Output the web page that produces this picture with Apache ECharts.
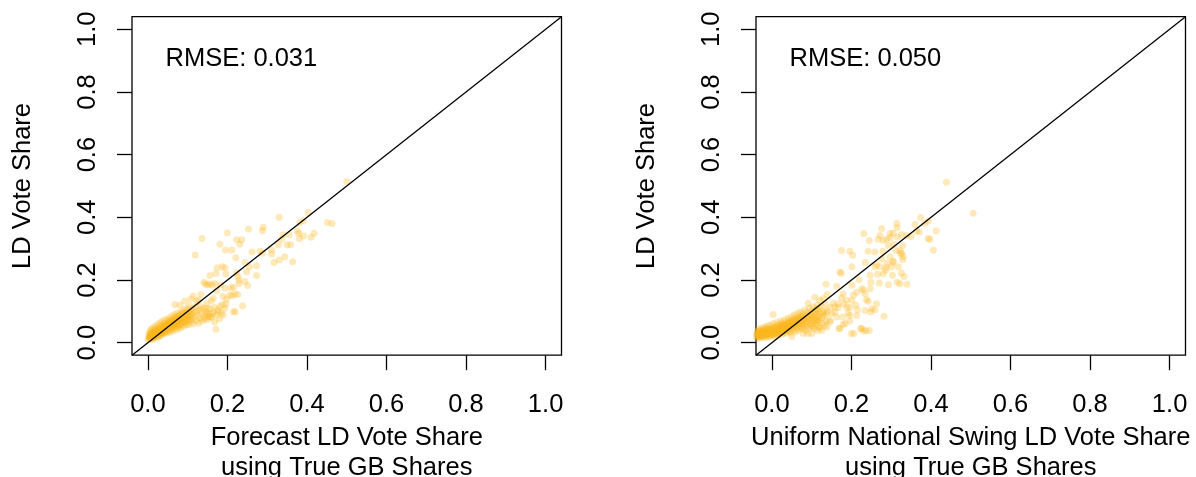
<!DOCTYPE html>
<html>
<head>
<meta charset="utf-8">
<script src="https://cdn.jsdelivr.net/npm/echarts@6/dist/echarts.min.js"></script>
<style>
  html, body { margin: 0; padding: 0; background: #fff; }
  #chart { width: 1196px; height: 477px; }
</style>
</head>
<body>
<div id="chart"></div>
<script>
// Axis limits (R-style 4% padding around [0, 1]) and tick values
const AXIS_MIN = -0.04;
const AXIS_MAX = 1.04;
const tickValues = [0, 0.2, 0.4, 0.6, 0.8, 1.0];

// Panel titles and fit statistics
const xTitles = [
  'Forecast LD Vote Share\nusing True GB Shares',
  'Uniform National Swing LD Vote Share\nusing True GB Shares'
];
const yTitle = 'LD Vote Share';
const rmseValues = ['0.031', '0.050'];
const rmsePosition = [0.235, 0.905];

// Left panel: [forecast share, actual share] per constituency
const forecastShares = [
  [.500,.514],[.330,.400],[.403,.415],[.451,.383],[.463,.380],[.382,.383],[.391,.389],[.376,.357],
  [.379,.349],[.418,.349],[.410,.336],[.391,.340],[.381,.332],[.290,.368],[.288,.357],[.253,.363],
  [.200,.351],[.136,.332],[.223,.328],[.236,.328],[.231,.314],[.181,.314],[.195,.296],[.211,.296],
  [.262,.289],[.282,.292],[.288,.285],[.311,.296],[.311,.283],[.340,.344],[.336,.330],[.355,.344],
  [.328,.312],[.350,.312],[.359,.312],[.221,.271],[.244,.256],[.317,.256],[.330,.264],[.344,.274],
  [.364,.258],[.273,.245],[.174,.239],[.187,.242],[.194,.239],[.255,.242],[.248,.226],[.171,.221],
  [.196,.219],[.223,.223],[.226,.211],[.156,.214],[.273,.214],[.229,.200],[.229,.189],[.244,.195],
  [.251,.182],[.145,.187],[.156,.187],[.169,.189],[.173,.166],[.194,.174],[.215,.177],[.226,.154],
  [.206,.152],[.189,.147],[.133,.154],[.164,.142],[.119,.280],[.238,.117],[.220,.099],[.171,.043],
  [.114,.149],[.127,.136],[.148,.126],[.160,.134],[.181,.115],[.177,.099],[.156,.083],[.146,.094],
  [.196,.123],[.189,.088],[.141,.193],[.150,.184],[.162,.184],[.183,.184],[.209,.175],[.212,.150],
  [.198,.139],[.187,.122],[.194,.110],[.167,.112],[.162,.091],[.152,.083],[.142,.076],[.148,.110],
  [.133,.115],[.123,.131],[.108,.139],[.093,.133],[.081,.120],[.068,.122],[.215,.099],[.219,.155],
  // dense cluster of low-share seats
  [.000,.010],[.002,.018],[.004,.025],[.003,.032],[.005,.012],[.006,.040],[.007,.021],[.008,.029],
  [.009,.015],[.010,.036],[.010,.046],[.011,.024],[.012,.010],[.013,.031],[.014,.019],[.015,.041],
  [.016,.027],[.017,.051],[.018,.034],[.019,.015],[.020,.022],[.021,.044],[.022,.030],[.023,.056],
  [.024,.038],[.025,.018],[.026,.026],[.027,.047],[.028,.033],[.029,.062],[.030,.040],[.031,.024],
  [.032,.052],[.033,.030],[.034,.045],[.035,.068],[.036,.036],[.037,.057],[.038,.027],[.039,.049],
  [.040,.041],[.041,.063],[.042,.034],[.043,.074],[.044,.053],[.045,.045],[.046,.030],[.047,.060],
  [.048,.040],[.049,.069],[.050,.050],[.051,.036],[.052,.079],[.053,.057],[.054,.046],[.055,.064],
  [.056,.033],[.057,.072],[.058,.052],[.059,.041],[.060,.085],[.061,.061],[.062,.048],[.063,.068],
  [.064,.038],[.065,.077],[.066,.056],[.067,.090],[.068,.045],[.069,.065],[.070,.073],[.071,.052],
  [.072,.083],[.073,.060],[.074,.042],[.075,.095],[.076,.068],[.077,.050],[.078,.078],[.079,.058],
  [.080,.088],[.081,.066],[.082,.047],[.083,.074],[.084,.100],[.085,.056],[.086,.082],[.087,.064],
  [.088,.093],[.089,.072],[.090,.052],[.091,.080],[.092,.105],[.093,.062],[.094,.088],[.095,.070],
  [.096,.097],[.097,.057],[.098,.078],[.099,.110],[.100,.066],[.101,.086],[.102,.095],[.103,.073],
  [.104,.058],[.105,.118],[.106,.082],[.107,.100],[.108,.068],[.110,.090],[.112,.075],[.113,.108],
  [.114,.060],[.116,.096],[.118,.082],[.120,.114],[.122,.070],[.124,.100],[.126,.088],[.128,.062],
  [.130,.106],[.132,.078],[.134,.094],[.137,.070],[.140,.110],[.143,.085],[.146,.100],[.150,.074],
  [.153,.092],[.156,.108],[.160,.080],[.164,.098],[.168,.066],[.172,.088],[.176,.104],[.180,.076],
  [.185,.095],
  [.003,.015],[.006,.022],[.008,.013],[.011,.030],[.013,.017],[.015,.026],[.017,.021],[.019,.037],
  [.022,.025],[.024,.031],[.026,.043],[.028,.020],[.031,.035],[.033,.042],[.035,.029],[.037,.048],
  [.040,.032],[.042,.055],[.044,.039],[.046,.051],[.048,.058],[.050,.043],[.052,.064],[.054,.055],
  [.057,.047],[.059,.066],[.061,.054],[.063,.075],[.066,.063],[.068,.058],[.070,.080],[.072,.068],
  [.074,.056],[.077,.085],[.079,.070],[.082,.062],[.085,.092],[.088,.078],[.091,.068],[.094,.096],
  [.097,.084],[.100,.076],[.104,.102],[.108,.088],
  [.005,.020],[.009,.026],[.012,.022],[.016,.033],[.020,.028],[.023,.036],[.027,.040],[.030,.032],
  [.034,.047],[.038,.043],[.041,.050],[.045,.056],[.049,.052],[.053,.060],[.056,.068],[.060,.058],
  [.064,.070],[.067,.066],[.071,.075],[.075,.072]
];

// Right panel: [uniform national swing share, actual share] per constituency
const swingShares = [
  [.439,.512],[.506,.413],[.374,.399],[.314,.380],[.315,.367],[.360,.377],[.385,.381],[.393,.388],
  [.413,.357],[.397,.330],[.406,.295],[.364,.356],[.350,.339],[.339,.342],[.326,.345],[.305,.349],
  [.297,.335],[.289,.330],[.293,.310],[.307,.314],[.329,.310],[.322,.294],[.276,.364],[.272,.342],
  [.245,.326],[.267,.330],[.231,.348],[.280,.326],[.297,.348],[.315,.337],[.371,.353],[.393,.332],
  [.312,.294],[.326,.286],[.330,.275],[.175,.294],[.196,.292],[.203,.279],[.242,.292],[.259,.289],
  [.279,.292],[.235,.256],[.276,.268],[.263,.249],[.287,.240],[.305,.260],[.329,.265],[.324,.284],
  [.297,.274],[.290,.253],[.272,.242],[.305,.257],[.259,.242],[.301,.242],[.318,.242],[.201,.242],
  [.171,.225],[.247,.215],[.266,.218],[.286,.231],[.303,.215],[.326,.222],[.293,.185],[.315,.193],
  [.322,.188],[.340,.186],[.332,.211],[.136,.186],[.163,.180],[.201,.183],[.219,.201],[.249,.193],
  [.270,.190],[.280,.220],[.226,.172],[.234,.156],[.213,.161],[.247,.172],[.230,.167],[.238,.137],
  [.251,.108],[.248,.098],[.282,.084],[.200,.029],[.223,.045],[.236,.039],[.245,.039],[.171,.045],
  [.184,.061],[.196,.087],[.211,.120],[.196,.113],[.181,.124],[.167,.124],[.158,.114],[.150,.092],
  [.163,.082],[.138,.103],[.146,.066],[.133,.055],[.125,.039],[.114,.039],[.104,.050],[.091,.126],
  [.003,.090],[.121,.135],[.129,.140],[.108,.145],[.139,.154],[.050,.020],[.079,.029],[.100,.029],
  [.174,.222],[.179,.156],[.175,.143],[.188,.135],[.201,.135],[.205,.151],[.215,.105],[.234,.103],
  [.242,.132],[.263,.124],[.259,.105],[.154,.126],[.146,.112],[.167,.112],[.158,.098],[.188,.112],
  [.192,.095],[.213,.087],[.179,.082],[.196,.069],[.169,.045],[.179,.058],[.146,.071],[.129,.092],
  [.112,.108],[.116,.071],[.138,.050],[.121,.048],[.226,.045],[.230,.037],[.206,.029],[.090,.029],
  // dense band of low-share seats (swing projections run slightly negative)
  [-.038,.014],[-.037,.022],[-.036,.030],[-.035,.038],[-.034,.018],[-.033,.026],[-.032,.044],[-.031,.033],
  [-.030,.015],[-.029,.021],[-.028,.040],[-.027,.028],[-.026,.035],[-.025,.017],[-.024,.047],[-.023,.024],
  [-.022,.031],[-.021,.039],[-.020,.020],[-.019,.027],[-.018,.050],[-.017,.034],[-.016,.016],[-.015,.042],
  [-.014,.025],[-.013,.030],[-.012,.037],[-.011,.053],[-.010,.021],[-.009,.045],[-.008,.028],[-.007,.034],
  [-.006,.018],[-.005,.040],[-.004,.056],[-.003,.025],[-.002,.032],[-.001,.048],[.000,.038],[.001,.022],
  [.002,.029],[.003,.060],[.004,.043],[.005,.034],[.006,.026],[.007,.051],[.008,.039],[.009,.020],
  [.010,.045],[.011,.031],[.012,.064],[.013,.036],[.014,.055],[.015,.042],[.016,.025],[.017,.048],
  [.018,.034],[.019,.059],[.020,.040],[.021,.030],[.022,.069],[.023,.046],[.024,.052],[.025,.037],
  [.026,.027],[.027,.062],[.028,.043],[.029,.055],[.030,.034],[.031,.048],[.032,.072],[.033,.040],
  [.034,.058],[.035,.030],[.036,.051],[.037,.066],[.038,.044],[.039,.036],[.040,.078],[.041,.055],
  [.042,.048],[.043,.062],[.044,.038],[.045,.070],[.046,.052],[.047,.032],[.048,.058],[.049,.082],
  [.050,.045],[.051,.066],[.052,.054],[.053,.074],[.054,.040],[.055,.060],[.056,.088],[.057,.050],
  [.058,.068],[.059,.035],[.060,.056],[.061,.078],[.062,.064],[.063,.046],[.064,.092],[.065,.060],
  [.066,.072],[.067,.040],[.068,.082],[.069,.054],[.070,.066],[.071,.098],[.072,.048],[.073,.076],
  [.074,.060],[.075,.086],[.076,.044],[.077,.070],[.078,.058],[.079,.094],[.080,.080],[.081,.050],
  [.082,.066],[.083,.104],[.084,.074],[.085,.040],[.086,.088],[.087,.060],[.088,.078],[.089,.054],
  [.090,.096],[.091,.068],[.092,.084],[.093,.046],[.094,.110],[.095,.074],[.096,.060],[.097,.090],
  [.098,.080],[.099,.052],[.100,.100],[.101,.070],[.102,.086],[.103,.062],[.104,.114],[.105,.078],
  [.106,.044],[.107,.094],[.108,.068],[.109,.082],[.110,.104],[.111,.058],[.112,.090],[.113,.074],
  [.114,.120],[.115,.064],[.116,.098],[.117,.084],[.118,.050],[.119,.108],[.120,.072],[.122,.092],
  [.124,.116],[.126,.080],[.128,.062],[.130,.100],[.132,.086],[.134,.124],[.136,.070],[.138,.094],
  [-.039,.026],[-.037,.034],[-.035,.024],[-.033,.036],[-.031,.020],[-.029,.030],[-.027,.022],[-.025,.032],
  [-.023,.040],[-.021,.026],[-.019,.036],[-.017,.024],[-.015,.030],[-.013,.044],[-.011,.027],[-.009,.035],
  [-.007,.042],[-.005,.030],[-.003,.037],[-.001,.028],[.001,.040],[.003,.033],[.005,.046],[.007,.030],
  [.009,.038],[.011,.050],[.013,.028],[.015,.034],[.017,.041],[.019,.047],[.021,.036],[.023,.056],
  [.025,.044],[.027,.050],[.029,.038],[.031,.058],[.033,.050],[.035,.045],[.037,.054],[.039,.062],
  [.041,.046],[.043,.052],[.045,.060],[.047,.066],[.049,.054],[.052,.064],[.055,.072],[.058,.062],
  [.061,.070],[.064,.078],[.067,.066],[.070,.076],[.074,.082],[.078,.074]
];

const FONT = 'Liberation Sans, Arial, Helvetica, sans-serif';
const TEXT_SIZE = 25.5;
const POINT_COLOR = 'rgba(253, 183, 30, 0.38)';
const INK = '#000';

const panels = [
  { left: 132, shares: forecastShares },
  { left: 756, shares: swingShares }
];

const grids = panels.map(p => ({
  left: p.left, top: 16.7, width: 429.5, height: 338.5,
  outerBoundsMode: 'none', containLabel: false,
  show: true, borderColor: INK, borderWidth: 1.3, backgroundColor: 'transparent'
}));

const tickFormat = v => v.toFixed(1);

// axes sit on the plot frame (not on the zero line), ticks point outward
const xAxes = panels.map((p, i) => ({
  type: 'value', gridIndex: i, min: AXIS_MIN, max: AXIS_MAX,
  axisLine: { show: false, onZero: false }, splitLine: { show: false },
  axisTick: { show: true, inside: false, length: 15, customValues: tickValues,
              lineStyle: { color: INK, width: 1.3 } },
  axisLabel: { customValues: tickValues, formatter: tickFormat, color: INK,
               fontSize: TEXT_SIZE, fontFamily: FONT, margin: 37 },
  name: xTitles[i], nameLocation: 'middle', nameGap: 53,
  nameTextStyle: { color: INK, fontSize: TEXT_SIZE, fontFamily: FONT, lineHeight: 30 }
}));

const yAxes = panels.map((p, i) => ({
  type: 'value', gridIndex: i, min: AXIS_MIN, max: AXIS_MAX,
  axisLine: { show: false, onZero: false }, splitLine: { show: false },
  axisTick: { show: true, inside: false, length: 15, customValues: tickValues,
              lineStyle: { color: INK, width: 1.3 } },
  axisLabel: { customValues: tickValues, formatter: tickFormat, color: INK, rotate: 90,
               fontSize: TEXT_SIZE, fontFamily: FONT, margin: 31 },
  name: yTitle, nameLocation: 'middle', nameGap: 96,
  nameTextStyle: { color: INK, fontSize: TEXT_SIZE, fontFamily: FONT }
}));

const series = [];
panels.forEach((p, i) => {
  // constituency points
  series.push({
    type: 'scatter', xAxisIndex: i, yAxisIndex: i, data: p.shares,
    symbol: 'circle', symbolSize: 7, clip: true, silent: true,
    itemStyle: { color: POINT_COLOR, borderWidth: 0 }, z: 2
  });
  // 45-degree reference line y = x across the full axis range
  series.push({
    type: 'line', xAxisIndex: i, yAxisIndex: i,
    data: [[AXIS_MIN, AXIS_MIN], [AXIS_MAX, AXIS_MAX]],
    symbol: 'none', clip: true, silent: true,
    lineStyle: { color: INK, width: 1.3 }, z: 3
  });
  // RMSE annotation
  series.push({
    type: 'scatter', xAxisIndex: i, yAxisIndex: i, data: [rmsePosition],
    symbol: 'circle', symbolSize: 0.1, silent: true, itemStyle: { color: INK }, z: 4,
    label: { show: true, position: 'inside', formatter: 'RMSE: ' + rmseValues[i],
             color: INK, opacity: 1, fontSize: TEXT_SIZE, fontFamily: FONT }
  });
});

const chart = echarts.init(document.getElementById('chart'), null, { renderer: 'canvas' });
chart.setOption({
  animation: false,
  backgroundColor: '#fff',
  grid: grids,
  xAxis: xAxes,
  yAxis: yAxes,
  series: series
});
</script>
</body>
</html>
